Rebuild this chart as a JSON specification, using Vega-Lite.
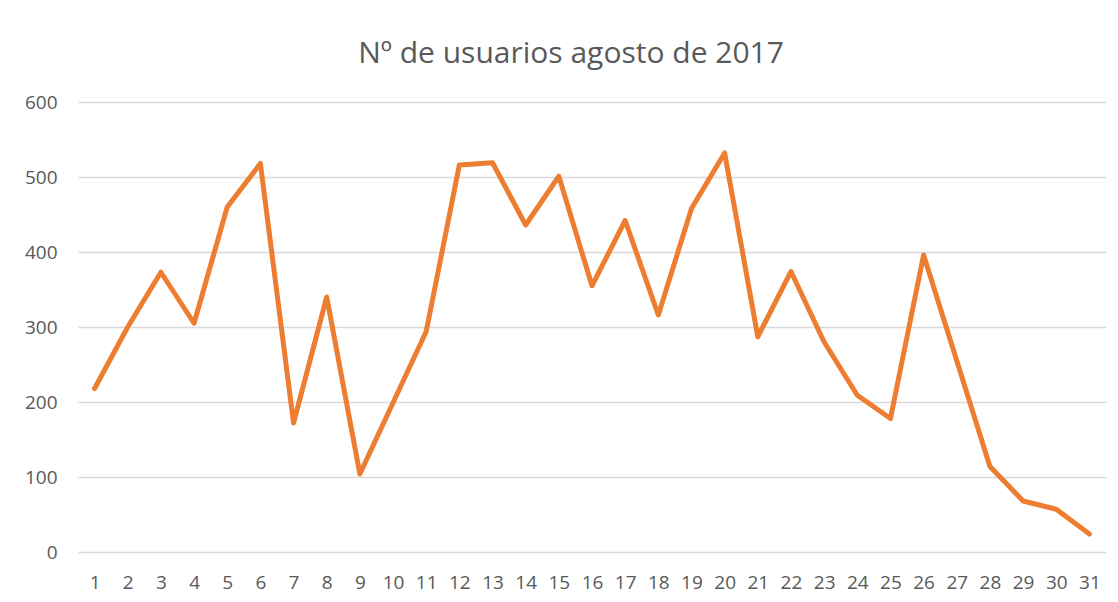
{
  "$schema": "https://vega.github.io/schema/vega-lite/v6.json",
  "width": 1028,
  "height": 450,
  "autosize": "none",
  "padding": {"left": 78, "top": 102, "right": 12, "bottom": 50},
  "background": "#ffffff",
  "config": {
    "view": {"stroke": null},
    "font": "Open Sans"
  },
  "title": {
    "text": "Nº de usuarios agosto de 2017",
    "fontSize": 30,
    "font": "Open Sans",
    "fontWeight": "normal",
    "color": "#595959",
    "anchor": "middle",
    "offset": 24,
    "dx": -21
  },
  "data": {
    "values": [
      {"day": 1, "users": 218},
      {"day": 2, "users": 300},
      {"day": 3, "users": 373},
      {"day": 4, "users": 305},
      {"day": 5, "users": 460},
      {"day": 6, "users": 518},
      {"day": 7, "users": 172},
      {"day": 8, "users": 340},
      {"day": 9, "users": 104},
      {"day": 10, "users": 199},
      {"day": 11, "users": 294},
      {"day": 12, "users": 516},
      {"day": 13, "users": 519},
      {"day": 14, "users": 436},
      {"day": 15, "users": 501},
      {"day": 16, "users": 355},
      {"day": 17, "users": 442},
      {"day": 18, "users": 316},
      {"day": 19, "users": 458},
      {"day": 20, "users": 532},
      {"day": 21, "users": 287},
      {"day": 22, "users": 374},
      {"day": 23, "users": 280},
      {"day": 24, "users": 209},
      {"day": 25, "users": 178},
      {"day": 26, "users": 396},
      {"day": 27, "users": 255},
      {"day": 28, "users": 114},
      {"day": 29, "users": 68},
      {"day": 30, "users": 57},
      {"day": 31, "users": 24}
    ]
  },
  "mark": {"type": "line", "color": "#ED7D31", "strokeWidth": 5, "strokeCap": "round", "strokeJoin": "round"},
  "encoding": {
    "x": {
      "field": "day",
      "type": "ordinal",
      "scale": {"type": "point", "padding": 0.5},
      "axis": {
        "title": null,
        "labelAngle": 0,
        "domain": false,
        "ticks": false,
        "tickSize": 0,
        "grid": false,
        "labelPadding": 21,
        "labelFontSize": 19,
        "labelFont": "Open Sans",
        "labelColor": "#595959"
      }
    },
    "y": {
      "field": "users",
      "type": "quantitative",
      "scale": {"domain": [0, 600], "nice": false},
      "axis": {
        "title": null,
        "values": [0, 100, 200, 300, 400, 500, 600],
        "domain": false,
        "ticks": false,
        "tickSize": 0,
        "grid": true,
        "gridColor": "#D9D9D9",
        "gridWidth": 1.5,
        "labelPadding": 21,
        "labelFontSize": 19,
        "labelFont": "Open Sans",
        "labelColor": "#595959"
      }
    }
  }
}
